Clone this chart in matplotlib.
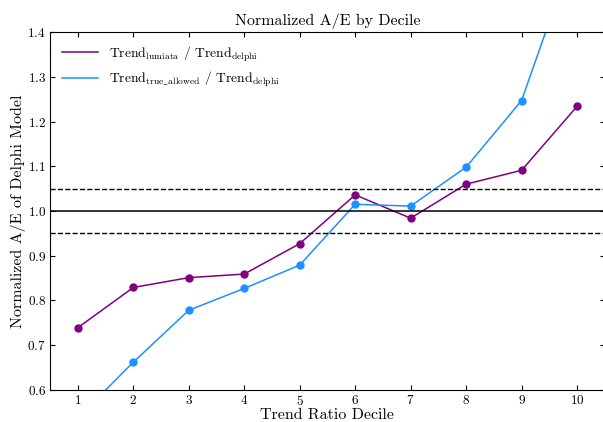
import numpy as np
import matplotlib
matplotlib.use('Agg')
import matplotlib.pyplot as plt
from matplotlib.lines import Line2D

# valores
deciles = [1, 2, 3, 4, 5, 6, 7, 8, 9, 10]
lumiata = [0.739, 0.829, 0.851, 0.859, 0.927, 1.036, 0.984, 1.060, 1.091, 1.234]
true_allowed = [0.537, 0.662, 0.778, 0.827, 0.879, 1.015, 1.011, 1.098, 1.247, 1.60]

plt.rcParams['font.family'] = 'serif'
plt.rcParams['font.serif'] = ['cmr10']
plt.rcParams['mathtext.fontset'] = 'cm'
plt.rcParams['axes.formatter.use_mathtext'] = True

purple = '#800080'
blue = '#1E90FF'

fig = plt.figure(figsize=(6.03, 4.22), dpi=100)
ax = fig.add_axes([0.083, 0.076, 0.92, 0.848])

ax.plot(deciles, lumiata, color=purple, marker='o', markersize=5, lw=1.1)
ax.plot(deciles, true_allowed, color=blue, marker='o', markersize=5, lw=1.1)

ax.axhline(1.0, color='black', lw=1.1)
ax.axhline(1.05, color='black', lw=1.0, ls='--')
ax.axhline(0.95, color='black', lw=1.0, ls='--')

ax.set_xlim(0.5, 10.5)
ax.set_ylim(0.6, 1.4)
ax.set_xticks(deciles)
ax.set_yticks(np.arange(0.6, 1.41, 0.1))
ax.tick_params(direction='in', top=True, right=True, labelsize=9.5, pad=3)
ax.set_title('Normalized A/E by Decile', fontsize=11.5, pad=5)
ax.set_xlabel('Trend Ratio Decile', fontsize=11.5, labelpad=0)
ax.set_ylabel('Normalized A/E of Delphi Model', fontsize=11.5, labelpad=1)

handles = [Line2D([], [], color=purple, lw=1.1), Line2D([], [], color=blue, lw=1.1)]
labels = [r'Trend$_{\rm lumiata}$ / Trend$_{\rm delphi}$',
          r'Trend$_{\rm true\_allowed}$ / Trend$_{\rm delphi}$']
ax.legend(handles, labels, loc='upper left', frameon=False, fontsize=9.8,
          handlelength=2.6, borderaxespad=0.5, labelspacing=0.45)

plt.savefig('out.png', dpi=100)
